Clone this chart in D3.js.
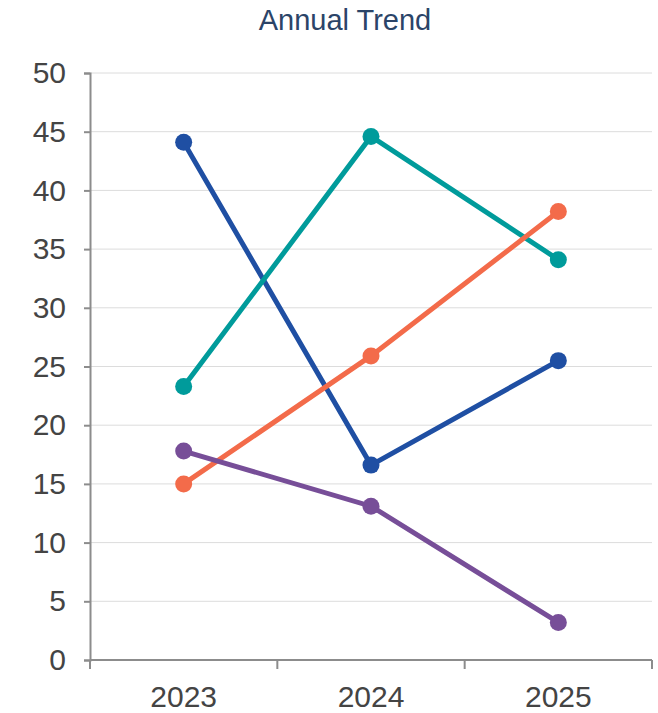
<!DOCTYPE html>
<html>
<head>
<meta charset="utf-8">
<script src="https://cdn.jsdelivr.net/npm/d3@7"></script>
<style>
  html, body { margin: 0; padding: 0; background: #ffffff; }
  svg { display: block; }
</style>
</head>
<body>
<svg id="chart" width="658" height="713"></svg>
<script>
// Chart data
const years = ["2023", "2024", "2025"];
const seriesNames = ["Series A", "Series B", "Series C", "Series D"];
const seriesA = [44.1, 16.6, 25.5];
const seriesB = [23.3, 44.6, 34.1];
const seriesC = [15.0, 25.9, 38.2];
const seriesD = [17.8, 13.1, 3.2];
const seriesColors = ["#1f4fa3", "#009b9b", "#f36b4a", "#774e98"];
const yTicks = [0, 5, 10, 15, 20, 25, 30, 35, 40, 45, 50];

const series = [seriesA, seriesB, seriesC, seriesD].map((values, i) => ({
  name: seriesNames[i],
  color: seriesColors[i],
  values: values.map((v, j) => ({ year: years[j], value: v }))
}));

const svg = d3.select("#chart");
const margin = { left: 90, right: 6, top: 73, bottom: 53 };
const width = 658, height = 713;
const font = "Liberation Sans, Arial, sans-serif";

const x = d3.scaleBand().domain(years).range([margin.left, width - margin.right]);
const y = d3.scaleLinear().domain([0, 50]).range([height - margin.bottom, margin.top]);

// Title
svg.append("text")
  .attr("x", 345).attr("y", 30)
  .attr("text-anchor", "middle")
  .attr("font-family", font)
  .attr("font-size", 29)
  .attr("fill", "#2b4468")
  .text("Annual Trend");

// Gridlines
svg.append("g")
  .selectAll("line")
  .data(yTicks.filter(d => d > 0))
  .join("line")
  .attr("x1", margin.left).attr("x2", width - margin.right)
  .attr("y1", d => y(d)).attr("y2", d => y(d))
  .attr("stroke", "#dcdcdc").attr("stroke-width", 1);

// Y axis
const yAxis = svg.append("g")
  .attr("transform", `translate(${margin.left},0)`)
  .call(d3.axisLeft(y).tickValues(yTicks).tickSize(6).tickPadding(18));
yAxis.select(".domain").attr("stroke", "#8c8c8c").attr("stroke-width", 2);
yAxis.selectAll(".tick line").attr("stroke", "#8c8c8c").attr("stroke-width", 2);
yAxis.selectAll(".tick text")
  .attr("font-family", font)
  .attr("font-size", 30)
  .attr("fill", "#444444");

// X axis with ticks on band boundaries
const xAxisG = svg.append("g")
  .attr("transform", `translate(0,${y(0)})`);
xAxisG.append("line")
  .attr("x1", margin.left).attr("x2", width - margin.right)
  .attr("stroke", "#8c8c8c").attr("stroke-width", 2);
const bounds = years.map(d => x(d)).concat([x(years[years.length - 1]) + x.bandwidth()]);
xAxisG.selectAll("line.bt")
  .data(bounds)
  .join("line")
  .attr("class", "bt")
  .attr("x1", d => d).attr("x2", d => d)
  .attr("y1", 0).attr("y2", 9)
  .attr("stroke", "#8c8c8c").attr("stroke-width", 2);
xAxisG.selectAll("text")
  .data(years)
  .join("text")
  .attr("x", d => x(d) + x.bandwidth() / 2)
  .attr("y", 47)
  .attr("text-anchor", "middle")
  .attr("font-family", font)
  .attr("font-size", 30)
  .attr("fill", "#444444")
  .text(d => d);

// Lines and markers
const line = d3.line()
  .x(d => x(d.year) + x.bandwidth() / 2)
  .y(d => y(d.value));

const g = svg.append("g");
series.forEach(s => {
  g.append("path")
    .datum(s.values)
    .attr("d", line)
    .attr("fill", "none")
    .attr("stroke", s.color)
    .attr("stroke-width", 5);
  g.selectAll(null)
    .data(s.values)
    .join("circle")
    .attr("cx", d => x(d.year) + x.bandwidth() / 2)
    .attr("cy", d => y(d.value))
    .attr("r", 8.5)
    .attr("fill", s.color);
});
</script>
</body>
</html>
